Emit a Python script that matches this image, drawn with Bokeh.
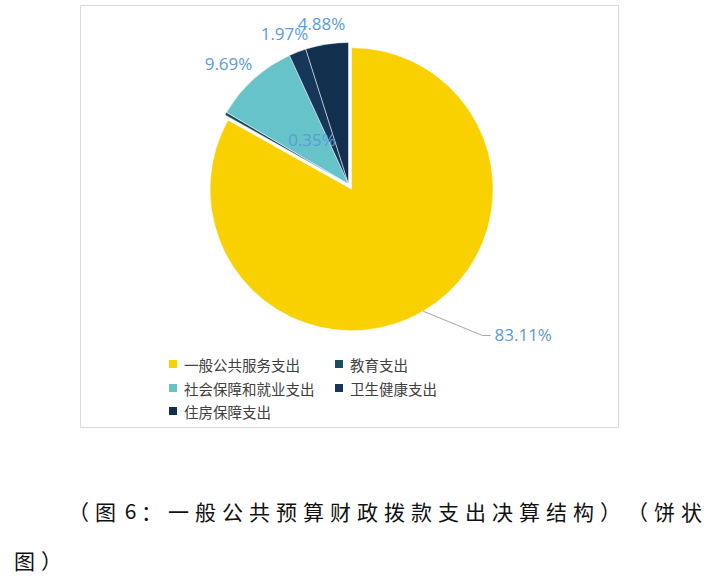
import math
from bokeh.plotting import figure
from bokeh.models import Range1d, ColumnDataSource
from bokeh.core.properties import value
from bokeh.embed import file_html
from bokeh.resources import INLINE

# ---------------- data ----------------
categories = ["一般公共服务支出", "教育支出", "社会保障和就业支出", "卫生健康支出", "住房保障支出"]
shares = [83.11, 0.35, 9.69, 1.97, 4.88]
colors = ["#F9D000", "#1B4D5E", "#67C3CA", "#16365A", "#132F4E"]
pct_labels = ["%.2f%%" % v for v in shares]
caption_line1 = "（图6：一般公共预算财政拨款支出决算结构）（饼状"
caption_line2 = "图）"

# ---------------- layout (pixel space of the picture, y downwards) ----------------
W, H = 725, 581
CX, CY, R = 348.0, 183.5, 141.5
explode = [6, 0, 0, 0, 0]
label_pos = [(494, 334, "left"), (311.5, 139, "center"), (228, 63, "center"),
             (284, 33, "center"), (321, 23, "center")]
legend_pos = [(172.5, 363.5), (338.5, 363.5), (172.5, 387.5), (338.5, 387.5), (172.5, 410.5)]

p = figure(width=W, height=H, output_backend="svg", toolbar_location=None,
           x_range=Range1d(0, W), y_range=Range1d(-H, 0),
           min_border=0)
p.axis.visible = False
p.grid.visible = False
p.outline_line_color = None
p.background_fill_color = "white"
p.border_fill_color = "white"

# chart frame
p.quad(left=[80], right=[618], top=[-5], bottom=[-427], fill_color=None,
       line_color="#D9D9D9", line_width=1)

# wedges
total = sum(shares)
starts, ends, xs, ys, mids = [], [], [], [], []
cum = 0.0
for v, e in zip(shares, explode):
    a0 = math.pi / 2 - 2 * math.pi * cum / total
    cum += v
    a1 = math.pi / 2 - 2 * math.pi * cum / total
    mid = (a0 + a1) / 2
    starts.append(a0)
    ends.append(a1)
    mids.append(mid)
    xs.append(CX + e * math.cos(mid))
    ys.append(-(CY - e * math.sin(mid)))

src = ColumnDataSource(dict(x=xs, y=ys, s=starts, e=ends, c=colors))
p.wedge(x="x", y="y", radius=R, start_angle="s", end_angle="e", direction="clock",
        fill_color="c", line_color="white", line_width=0.5, source=src)

# leader line for the big slice
lx0 = xs[0] + R * math.cos(mids[0])
ly0 = ys[0] + R * math.sin(mids[0])
p.line(x=[lx0, 482, 490], y=[ly0, -335, -335], line_color="#A6A6A6", line_width=1)

# percentage labels
for (lx, ly, al), t in zip(label_pos, pct_labels):
    p.text(x=[lx], y=[-ly], text=[t], text_align=al, text_baseline="middle",
           text_font=value("Open Sans"), text_font_size="17px", text_color="#5B9BD5")

# legend
p.scatter(x=[q[0] for q in legend_pos], y=[-q[1] for q in legend_pos], marker="square",
          size=8, fill_color=colors, line_color=None)
p.text(x=[q[0] + 11 for q in legend_pos], y=[-q[1] for q in legend_pos], text=categories,
       text_align="left", text_baseline="middle", text_font=value("Noto Sans CJK SC"),
       text_font_size="14.5px", text_color="#404040")

# caption (spread characters like justified document text)
x1 = [78, 105, 130, 151] + [178 + 27 * i for i in range(len(caption_line1) - 4)]
p.text(x=x1, y=[-510] * len(x1), text=list(caption_line1), text_align="center",
       text_baseline="middle", text_font=value("Noto Sans CJK SC"),
       text_font_size="21px", text_color="#111111")
x2 = [24 + 27 * i for i in range(len(caption_line2))]
p.text(x=x2, y=[-559] * len(x2), text=list(caption_line2), text_align="center",
       text_baseline="middle", text_font=value("Noto Sans CJK SC"),
       text_font_size="21px", text_color="#111111")

open("out.html", "w").write(file_html(p, INLINE))
